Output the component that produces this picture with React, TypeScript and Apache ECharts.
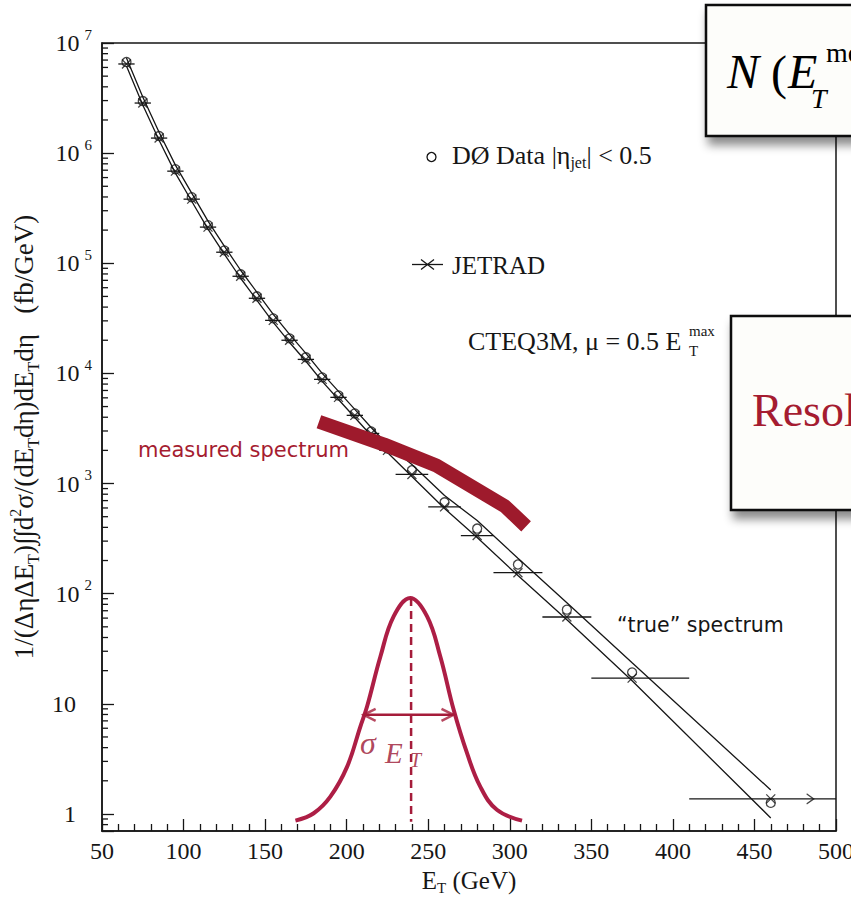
import { useEffect, useRef } from 'react';
import * as echarts from 'echarts';

// ---- data ----
const binCenters = [65, 75, 85, 95, 105, 115, 125, 135, 145, 155, 165, 175, 185, 195, 205, 215, 225, 240, 260, 280, 305, 335, 375, 460];
const binLow = [60, 70, 80, 90, 100, 110, 120, 130, 140, 150, 160, 170, 180, 190, 200, 210, 220, 230, 250, 270, 290, 320, 350, 410];
const binHigh = [70, 80, 90, 100, 110, 120, 130, 140, 150, 160, 170, 180, 190, 200, 210, 220, 230, 250, 270, 290, 320, 350, 410, 500];
const d0Data = [6.72e6, 2.97e6, 1.43e6, 7.15e5, 3.98e5, 2.22e5, 1.31e5, 7.94e4, 5.01e4, 3.16e4, 2.08e4, 1.4e4, 9.2e3, 6.31e3, 4.33e3, 2.97e3, 2.08e3, 1.32e3, 676, 390, 184, 71.6, 19.3, 1.26];
const jetrad = [6.45e6, 2.85e6, 1.37e6, 6.86e5, 3.82e5, 2.13e5, 1.26e5, 7.62e4, 4.81e4, 3.03e4, 2.0e4, 1.34e4, 8.83e3, 6.06e3, 4.16e3, 2.85e3, 2.0e3, 1.21e3, 614, 337, 155, 61.4, 17.1, 1.37];
const bandUpper = [7.3e6, 3.23e6, 1.55e6, 7.78e5, 4.33e5, 2.41e5, 1.43e5, 8.64e4, 5.45e4, 3.44e4, 2.26e4, 1.52e4, 1.0e4, 6.86e3, 4.71e3, 3.23e3, 2.26e3, 1.49e3, 778, 461, 210, 82.8, 23.6, 1.65];
const bandLower = [6.18e6, 2.73e6, 1.31e6, 6.58e5, 3.66e5, 2.04e5, 1.21e5, 7.31e4, 4.61e4, 2.91e4, 1.91e4, 1.29e4, 8.46e3, 5.8e3, 3.98e3, 2.73e3, 1.91e3, 1.16e3, 593, 323, 146, 58.0, 16.2, 0.92];
const overflowArrowET = 486;

const measuredET = [183, 223, 255, 297, 310];
const measuredValues = [3640, 2260, 1460, 622, 409];

const gaussET = [168.6, 179.8, 190.0, 200.3, 208.4, 212.5, 220.7, 228.8, 239.0, 249.3, 257.4, 265.6, 273.8, 281.9, 292.1, 307.5];
const gaussValues = [0.869, 1.015, 1.436, 2.69, 6.22, 9.45, 26.9, 62.2, 91.4, 62.2, 26.9, 8.82, 3.56, 1.77, 1.09, 0.869];
const gaussPeakET = 239.5;
const gaussDashValues = [91.4, 0.85];
const sigmaArrowET = [210.4, 265.5];
const sigmaArrowValue = 7.94;

const xMin = 50;
const xMax = 500;
const xInterval = 50;
const yMin = 0.7;
const yMax = 1e7;
const decades = [1, 10, 100, 1e3, 1e4, 1e5, 1e6];
const minorMultipliers = [2, 3, 4, 5, 6, 7, 8, 9];
const belowOneMinor = [0.8, 0.9];

const SERIF = 'Liberation Serif';
const SANS = 'DejaVu Sans';
const CRIMSON = '#a51c30';
const INK = '#161616';
const SIGMA = '#a53048';

export default function App() {
  const ref = useRef<HTMLDivElement>(null);
  useEffect(() => {
    if (!ref.current) return;
    const chart = echarts.init(ref.current, undefined, { renderer: 'svg' });

    const minorTicks: number[][] = [];
    belowOneMinor.forEach((v) => minorTicks.push([xMin, v]));
    decades.forEach((d) => minorMultipliers.forEach((m) => minorTicks.push([xMin, d * m])));

    const pair = (xs: number[], ys: number[]) => xs.map((x, i) => [x, ys[i]]);
    const last = binCenters.length - 1;

    const option: any = {
      animation: false,
      backgroundColor: '#ffffff',
      grid: {
        left: 102,
        right: 15,
        top: 43,
        bottom: 66,
        containLabel: false,
        outerBoundsMode: 'none',
        show: true,
        borderColor: INK,
        borderWidth: 1.5,
        backgroundColor: 'transparent',
      },
      xAxis: {
        type: 'value',
        min: xMin,
        max: xMax,
        interval: xInterval,
        name: '{a|E}{b|T}{a| (GeV)}',
        nameLocation: 'middle',
        nameGap: 32,
        nameTextStyle: {
          rich: {
            a: { fontFamily: SERIF, fontSize: 25, color: INK, lineHeight: 30 },
            b: { fontFamily: SERIF, fontSize: 15, color: INK, verticalAlign: 'bottom', lineHeight: 14 },
          },
        },
        axisLine: { show: true, lineStyle: { color: INK, width: 1.5 } },
        axisTick: { show: true, inside: true, length: 12, lineStyle: { color: INK, width: 1.3 } },
        minorTick: { show: true, splitNumber: 5, length: 7, lineStyle: { color: INK, width: 1.3 } },
        splitLine: { show: false },
        axisLabel: { fontFamily: SERIF, fontSize: 24, color: INK, margin: 8 },
      },
      yAxis: {
        type: 'log',
        logBase: 10,
        min: yMin,
        max: yMax,
        name:
          '{a|1/(ΔηΔE}{b|T}{a|)∫∫d}{c|2}{a|σ/(dE}{b|T}{a|dη)dE}{b|T}{a|dη   (fb/GeV)}',
        nameLocation: 'middle',
        nameRotate: 90,
        nameGap: 58,
        nameTextStyle: {
          rich: {
            a: { fontFamily: SERIF, fontSize: 27, color: INK, lineHeight: 34 },
            b: { fontFamily: SERIF, fontSize: 16, color: INK, verticalAlign: 'bottom', lineHeight: 14 },
            c: { fontFamily: SERIF, fontSize: 16, color: INK, verticalAlign: 'top', lineHeight: 18 },
          },
        },
        axisLine: { show: true, lineStyle: { color: INK, width: 1.5 } },
        axisTick: { show: true, inside: true, length: 12, lineStyle: { color: INK, width: 1.3 } },
        minorTick: { show: false },
        splitLine: { show: false },
        axisLabel: {
          margin: 10,
          formatter: (v: number) => {
            const e = Math.log10(v);
            const r = Math.round(e);
            if (Math.abs(e - r) > 1e-6) return '';
            if (r === 0) return '{p|1}';
            if (r === 1) return '{p|10}';
            return `{b|10}{s|${r}}`;
          },
          rich: {
            b: { fontFamily: SERIF, fontSize: 24, color: INK, lineHeight: 32 },
            p: { fontFamily: SERIF, fontSize: 24, color: INK, lineHeight: 32, padding: [0, 16, 0, 0] },
            s: { fontFamily: SERIF, fontSize: 15, color: INK, lineHeight: 16, verticalAlign: 'top', padding: [0, 0, 0, 5] },
          },
        },
      },
      series: [
        {
          type: 'custom',
          name: 'minor y ticks',
          silent: true,
          clip: false,
          encode: { x: 0, y: 1 },
          data: minorTicks,
          renderItem: (params: any, api: any) => {
            const p = api.coord([api.value(0), api.value(1)]);
            return {
              type: 'line',
              shape: { x1: p[0], y1: p[1], x2: p[0] + 6, y2: p[1] },
              style: { stroke: INK, lineWidth: 1.3 },
            };
          },
          z: 3,
        },
        {
          type: 'line',
          name: 'upper',
          data: pair(binCenters, bandUpper),
          showSymbol: false,
          lineStyle: { color: INK, width: 1.3 },
          z: 2,
        },
        {
          type: 'line',
          name: 'lower',
          data: pair(binCenters, bandLower),
          showSymbol: false,
          lineStyle: { color: INK, width: 1.3 },
          z: 2,
        },
        {
          type: 'custom',
          name: 'bins',
          silent: true,
          encode: { x: [0, 1], y: 2 },
          data: binLow.map((lo, i) => [lo, binHigh[i], jetrad[i]]),
          renderItem: (params: any, api: any) => {
            const a = api.coord([api.value(0), api.value(2)]);
            const b = api.coord([api.value(1), api.value(2)]);
            return {
              type: 'line',
              shape: { x1: a[0], y1: a[1], x2: b[0], y2: b[1] },
              style: { stroke: INK, lineWidth: 1.3 },
            };
          },
          z: 3,
        },
        {
          type: 'scatter',
          name: 'JETRAD',
          data: pair(binCenters, jetrad),
          symbol: 'path://M0,0L10,10M0,10L10,0',
          symbolSize: [9, 9],
          itemStyle: { color: 'transparent', borderColor: INK, borderWidth: 1.3 },
          z: 4,
        },
        {
          type: 'scatter',
          name: 'DØ Data',
          data: pair(binCenters, d0Data),
          symbol: 'circle',
          symbolSize: 9,
          itemStyle: { color: 'transparent', borderColor: INK, borderWidth: 1.3 },
          z: 4,
        },
        {
          type: 'scatter',
          name: 'overflow arrow',
          data: [[overflowArrowET, jetrad[last]]],
          symbol: 'path://M0,0L10,5L0,10',
          symbolSize: [7, 10],
          symbolOffset: [-3, 0],
          itemStyle: { color: 'transparent', borderColor: INK, borderWidth: 1.3 },
          z: 4,
        },
        {
          type: 'line',
          name: 'measured spectrum',
          data: pair(measuredET, measuredValues),
          showSymbol: false,
          lineStyle: { color: '#9e1a2c', width: 14, cap: 'butt', join: 'round' },
          z: 6,
        },
        {
          type: 'line',
          name: 'resolution',
          data: pair(gaussET, gaussValues),
          showSymbol: false,
          smooth: 0.4,
          lineStyle: { color: '#ad1e45', width: 4 },
          z: 6,
        },
        {
          type: 'line',
          name: 'peak',
          data: gaussDashValues.map((v) => [gaussPeakET, v]),
          showSymbol: false,
          lineStyle: { color: '#a51c3a', width: 2.5, type: [8, 5] },
          z: 6,
        },
        {
          type: 'line',
          name: 'sigma arrow',
          data: sigmaArrowET.map((x) => [x, sigmaArrowValue]),
          showSymbol: false,
          lineStyle: { color: '#a51c3a', width: 2.5 },
          z: 6,
        },
        {
          type: 'scatter',
          name: 'sigma arrow left',
          data: [[sigmaArrowET[0], sigmaArrowValue]],
          symbol: 'path://M10,0L0,5L10,10',
          symbolSize: [12, 12],
          symbolOffset: [6, 0],
          itemStyle: { color: 'transparent', borderColor: '#a51c3a', borderWidth: 2.5 },
          z: 6,
        },
        {
          type: 'scatter',
          name: 'sigma arrow right',
          data: [[sigmaArrowET[1], sigmaArrowValue]],
          symbol: 'path://M0,0L10,5L0,10',
          symbolSize: [12, 12],
          symbolOffset: [-6, 0],
          itemStyle: { color: 'transparent', borderColor: '#a51c3a', borderWidth: 2.5 },
          z: 6,
        },
      ],
      graphic: [
        // legend
        { type: 'circle', shape: { cx: 431.5, cy: 157, r: 4.5 }, style: { fill: 'none', stroke: INK, lineWidth: 1.3 }, z: 50 },
        {
          type: 'text',
          x: 452,
          y: 155,
          z: 50,
          style: {
            text: '{a|DØ Data |η}{s|jet}{a|| < 0.5}',
            align: 'left',
            verticalAlign: 'middle',
            rich: {
              a: { fontFamily: SERIF, fontSize: 26, fill: INK, lineHeight: 30 },
              s: { fontFamily: SERIF, fontSize: 16, fill: INK, verticalAlign: 'bottom', lineHeight: 12 },
            },
          },
        },
        { type: 'line', shape: { x1: 412, y1: 264.5, x2: 443, y2: 264.5 }, style: { stroke: INK, lineWidth: 1.3 }, z: 50 },
        { type: 'line', shape: { x1: 421, y1: 259.5, x2: 434, y2: 269.5 }, style: { stroke: INK, lineWidth: 1.3 }, z: 50 },
        { type: 'line', shape: { x1: 421, y1: 269.5, x2: 434, y2: 259.5 }, style: { stroke: INK, lineWidth: 1.3 }, z: 50 },
        {
          type: 'text',
          x: 452,
          y: 265,
          z: 50,
          style: { text: 'JETRAD', fontFamily: SERIF, fontSize: 25, fill: INK, align: 'left', verticalAlign: 'middle' },
        },
        {
          type: 'text',
          x: 468,
          y: 341,
          z: 50,
          style: { text: 'CTEQ3M, μ = 0.5 E', fontFamily: SERIF, fontSize: 26, fill: INK, align: 'left', verticalAlign: 'middle' },
        },
        {
          type: 'text',
          x: 689,
          y: 331,
          z: 50,
          style: { text: 'max', fontFamily: SERIF, fontSize: 15, fill: INK, align: 'left', verticalAlign: 'middle' },
        },
        {
          type: 'text',
          x: 689,
          y: 351,
          z: 50,
          style: { text: 'T', fontFamily: SERIF, fontSize: 15, fill: INK, align: 'left', verticalAlign: 'middle' },
        },
        // annotations
        {
          type: 'text',
          x: 138,
          y: 450,
          z: 50,
          style: { text: 'measured spectrum', fontFamily: SANS, fontSize: 21, fill: CRIMSON, align: 'left', verticalAlign: 'middle' },
        },
        {
          type: 'text',
          x: 617,
          y: 625,
          z: 50,
          style: { text: '“true” spectrum', fontFamily: SANS, fontSize: 20.5, fill: INK, align: 'left', verticalAlign: 'middle' },
        },
        {
          type: 'text',
          x: 360,
          y: 743,
          z: 50,
          style: { text: 'σ', fontFamily: SERIF, fontStyle: 'italic', fontSize: 32, fill: SIGMA, opacity: 0.9, align: 'left', verticalAlign: 'middle' },
        },
        {
          type: 'text',
          x: 385,
          y: 753,
          z: 50,
          style: { text: 'E', fontFamily: SERIF, fontStyle: 'italic', fontSize: 29, fill: SIGMA, opacity: 0.9, align: 'left', verticalAlign: 'middle' },
        },
        {
          type: 'text',
          x: 410,
          y: 760,
          z: 50,
          style: { text: 'T', fontFamily: SERIF, fontStyle: 'italic', fontSize: 20, fill: SIGMA, opacity: 0.9, align: 'left', verticalAlign: 'middle' },
        },
        // overlay boxes
        {
          type: 'rect',
          z: 80,
          shape: { x: 706, y: 5, width: 220, height: 131 },
          style: {
            fill: '#fdfdfa',
            stroke: '#0a0a0a',
            lineWidth: 2.5,
            shadowBlur: 10,
            shadowOffsetX: 3,
            shadowOffsetY: 8,
            shadowColor: 'rgba(0,0,0,0.45)',
          },
        },
        { type: 'text', x: 727, y: 71, z: 81, style: { text: 'N', fontFamily: SERIF, fontStyle: 'italic', fontSize: 48, fill: '#000', align: 'left', verticalAlign: 'middle' } },
        { type: 'text', x: 771, y: 72, z: 81, style: { text: '(', fontFamily: SERIF, fontSize: 48, fill: '#000', align: 'left', verticalAlign: 'middle' } },
        { type: 'text', x: 788, y: 71, z: 81, style: { text: 'E', fontFamily: SERIF, fontStyle: 'italic', fontSize: 48, fill: '#000', align: 'left', verticalAlign: 'middle' } },
        { type: 'text', x: 811, y: 98, z: 81, style: { text: 'T', fontFamily: SERIF, fontStyle: 'italic', fontSize: 28, fill: '#000', align: 'left', verticalAlign: 'middle' } },
        { type: 'text', x: 826, y: 52, z: 81, style: { text: 'meas', fontFamily: SERIF, fontSize: 28, fill: '#000', align: 'left', verticalAlign: 'middle' } },
        {
          type: 'rect',
          z: 80,
          shape: { x: 731, y: 316, width: 200, height: 194 },
          style: {
            fill: '#fdfdfa',
            stroke: '#0a0a0a',
            lineWidth: 2.5,
            shadowBlur: 10,
            shadowOffsetX: 3,
            shadowOffsetY: 8,
            shadowColor: 'rgba(0,0,0,0.45)',
          },
        },
        { type: 'text', x: 752, y: 410, z: 81, style: { text: 'Resolution', fontFamily: SERIF, fontSize: 46, fill: CRIMSON, align: 'left', verticalAlign: 'middle' } },
      ],
    };

    chart.setOption(option);
    return () => chart.dispose();
  }, []);

  return <div ref={ref} style={{ position: 'absolute', left: 0, top: 0, width: 851, height: 897 }} />;
}
